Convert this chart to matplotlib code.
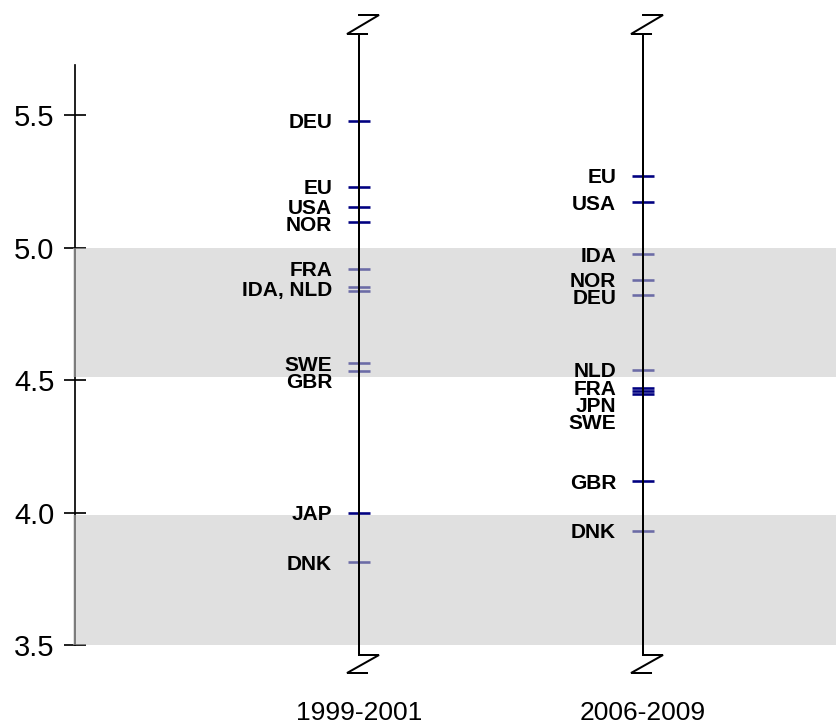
import matplotlib
matplotlib.use("Agg")
import matplotlib.pyplot as plt

plt.rcParams["font.family"] = ["Liberation Sans", "DejaVu Sans"]

# ---- data -----------------------------------------------------------------
periods = ["1999-2001", "2006-2009"]

names_1999 = ["DEU", "EU", "USA", "NOR", "FRA", "IDA", "NLD", "SWE", "GBR", "JAP", "DNK"]
values_1999 = [5.479, 5.230, 5.155, 5.097, 4.921, 4.850, 4.838, 4.564, 4.533, 4.000, 3.812]
labels_1999 = ["DEU", "EU", "USA", "NOR", "FRA", "IDA, NLD", "SWE", "GBR", "JAP", "DNK"]

names_2006 = ["EU", "USA", "IDA", "NOR", "DEU", "NLD", "FRA", "JPN", "SWE", "GBR", "DNK"]
values_2006 = [5.271, 5.172, 4.976, 4.879, 4.820, 4.540, 4.472, 4.459, 4.447, 4.119, 3.931]
labels_2006 = ["EU", "USA", "IDA", "NOR", "DEU", "NLD", "FRA", "JPN", "SWE", "GBR", "DNK"]

bands = [(3.5, 3.99), (4.51, 5.0)]
yticks = [3.5, 4.0, 4.5, 5.0, 5.5]

columns = [
    (names_1999, values_1999, labels_1999),
    (names_2006, values_2006, labels_2006),
]

# ---- figure / axes --------------------------------------------------------
W, H, DPI = 837, 727, 100
fig = plt.figure(figsize=(W / DPI, H / DPI), dpi=DPI)

ax_left_px, ax_bottom_px, ax_top_px = 75, 645, 49
ax = fig.add_axes([ax_left_px / W, (H - ax_bottom_px) / H,
                   (W - ax_left_px) / W, (ax_bottom_px - ax_top_px) / H])
xlim = (0.0, 2.683)
ylim = (3.5, 5.75)
ax.set_xlim(*xlim)
ax.set_ylim(*ylim)

px_x = (W - ax_left_px) / (xlim[1] - xlim[0])            # pixels per x unit
px_y = (ax_bottom_px - ax_top_px) / (ylim[1] - ylim[0])  # pixels per y unit

navy = "#000080"
pt = 72 / DPI  # points per pixel

for side in ("top", "right", "bottom"):
    ax.spines[side].set_visible(False)
ax.spines["left"].set_bounds(3.5, 5.69)
ax.spines["left"].set_linewidth(1.7 * pt)

ax.set_yticks(yticks, [f"{v:.1f}" for v in yticks])
ax.tick_params(axis="y", direction="inout", length=22 * pt, width=1.7 * pt,
               labelsize=21, pad=7, colors="black")
ax.set_xticks([1, 2], periods)
ax.tick_params(axis="x", length=0, labelsize=19, pad=40)

# shaded bands, drawn translucent over the axis and the markers
for lo, hi in bands:
    ax.axhspan(lo, hi, xmin=-0.002, xmax=1, facecolor=(0.78, 0.78, 0.78),
               alpha=0.54, lw=0, zorder=3, clip_on=False)

gap = 17 / px_y  # minimum vertical spacing between labels


def break_mark(x, y, up):
    # small "Z" shaped axis-break symbol, offsets in pixels
    if up:
        pts = [(8, 0), (-12, 0), (20, 19), (0, 19)]
    else:
        pts = [(0, 0), (20, 0), (-12, -18), (8, -18)]
    xs = [x + dx / px_x for dx, dy in pts]
    ys = [y + dy / px_y for dx, dy in pts]
    ax.plot(xs, ys, color="black", lw=2 * pt, clip_on=False,
            zorder=4, solid_joinstyle="miter")


y_top = ylim[0] + (ax_bottom_px - 34) / px_y
y_bot = ylim[0] - 10 / px_y

for i, (names, values, labels) in enumerate(columns):
    x = i + 1
    # vertical scale line with breaks at both ends
    ax.plot([x, x], [y_bot, y_top], color="black", lw=2 * pt, clip_on=False,
            zorder=4)
    break_mark(x, y_top, True)
    break_mark(x, y_bot, False)

    # country markers
    ax.plot([x] * len(values), values, ls="none", marker="_",
            ms=22 * pt, mew=2.6 * pt, color=navy, zorder=1)

    # labels, spread apart from the top down
    lookup = dict(zip(names, values))
    prev = None
    for lab in labels:
        members = [lookup[n] for n in lab.split(", ")]
        y = sum(members) / len(members)
        if prev is not None:
            y = min(y, prev - gap)
        prev = y
        ax.annotate(lab, (x, y), xytext=(-27 * pt, -2 * pt),
                    textcoords="offset points", ha="right", va="center",
                    fontsize=15, fontweight="bold", color="black", zorder=5)

fig.savefig("out.png", dpi=DPI)
